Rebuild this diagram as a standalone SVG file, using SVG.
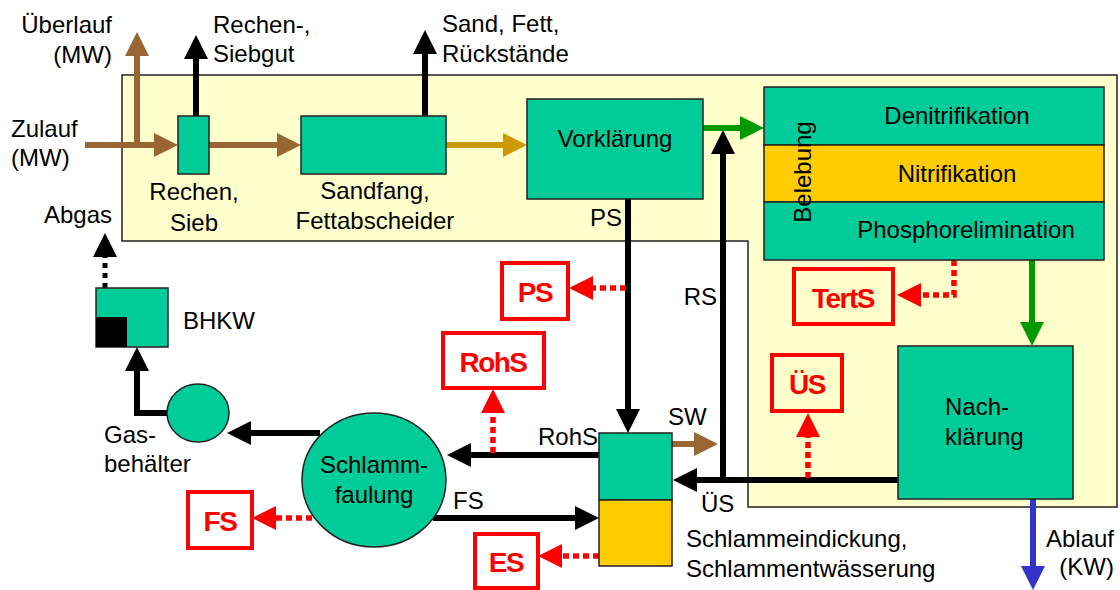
<svg xmlns="http://www.w3.org/2000/svg" width="1120" height="590" viewBox="0 0 1120 590">
<style>
text{font-family:"Liberation Sans",Arial,sans-serif;font-size:24px;fill:#000}
.m{text-anchor:middle}.e{text-anchor:end}
.r{fill:#FF0000;font-weight:bold;font-size:28px;letter-spacing:-1.5px;text-anchor:middle}
.box{fill:#00CC99;stroke:#222;stroke-width:1.5}
.gold{fill:#FFCC00;stroke:#222;stroke-width:1.5}
.rbox{fill:none;stroke:#FF0000;stroke-width:4}
.c{fill:none;stroke-width:6;stroke-linejoin:miter}
.k{stroke:#000;marker-end:url(#hk)}
.br{stroke:#996633;marker-end:url(#hb)}
.gd{stroke:#CC9900;marker-end:url(#hg)}
.gr{stroke:#009900;marker-end:url(#hgr)}
.bl{stroke:#3333CC;marker-end:url(#hbl)}
.rd{fill:none;stroke:#FF0000;stroke-width:5.5;stroke-dasharray:6 4;marker-end:url(#hr)}
.kd{fill:none;stroke:#000;stroke-width:5;stroke-dasharray:5 5;marker-end:url(#hk)}
</style>
<defs>
<marker id="hk" viewBox="0 0 24 24" refX="0" refY="12" markerWidth="24" markerHeight="24" markerUnits="userSpaceOnUse" orient="auto"><path d="M0,0L24,12L0,24z" fill="#000"/></marker>
<marker id="hb" viewBox="0 0 24 24" refX="0" refY="12" markerWidth="24" markerHeight="24" markerUnits="userSpaceOnUse" orient="auto"><path d="M0,0L24,12L0,24z" fill="#996633"/></marker>
<marker id="hg" viewBox="0 0 24 24" refX="0" refY="12" markerWidth="24" markerHeight="24" markerUnits="userSpaceOnUse" orient="auto"><path d="M0,0L24,12L0,24z" fill="#CC9900"/></marker>
<marker id="hgr" viewBox="0 0 24 24" refX="0" refY="12" markerWidth="24" markerHeight="24" markerUnits="userSpaceOnUse" orient="auto"><path d="M0,0L24,12L0,24z" fill="#009900"/></marker>
<marker id="hbl" viewBox="0 0 24 24" refX="0" refY="12" markerWidth="24" markerHeight="24" markerUnits="userSpaceOnUse" orient="auto"><path d="M0,0L24,12L0,24z" fill="#3333CC"/></marker>
<marker id="hr" viewBox="0 0 24 24" refX="0" refY="12" markerWidth="24" markerHeight="24" markerUnits="userSpaceOnUse" orient="auto"><path d="M0,0L24,12L0,24z" fill="#FF0000"/></marker>
</defs>
<rect width="1120" height="590" fill="#fff"/>
<path id="plant" d="M122,75H1117V507H748V241H122z" fill="#FFFFCC" stroke="#222" stroke-width="1.5"/>

<g id="connectors">
<path class="c br" d="M85,145H154"/>
<path class="c br" d="M137,145V56"/>
<path class="c br" d="M209,145H277"/>
<path class="c k" d="M196,116V59"/>
<path class="c k" d="M425,116V54"/>
<path class="c gd" d="M446,145H503"/>
<path class="c gr" d="M703,128H740"/>
<path class="c gr" d="M1032,260V322"/>
<path class="c bl" d="M1033,499V566"/>
<path class="c k" d="M628,199V409"/>
<path class="c k" d="M898,480H697"/>
<path class="c k" d="M723,483V154"/>
<path class="c k" d="M599,455H471"/>
<path class="c k" d="M433,518H575"/>
<path class="c br" d="M672,444H694"/>
<path class="c k" d="M320,433H251"/>
<path class="c k" d="M167,413H137V371"/>
<path class="kd" d="M105,288V257"/>
<path class="rd" d="M954,260V295H921"/>
<path class="rd" d="M808,478V437"/>
<path class="rd" d="M626,288H593"/>
<path class="rd" d="M493,453V413"/>
<path class="rd" d="M312,518H276"/>
<path class="rd" d="M599,556H562"/>
</g>

<g id="labels">
<text x="112" y="33" class="e">Überlauf</text>
<text x="112" y="63" class="e">(MW)</text>
<text x="11" y="137">Zulauf</text>
<text x="11" y="166">(MW)</text>
<text x="213" y="33">Rechen-,</text>
<text x="213" y="62">Siebgut</text>
<text x="442" y="32">Sand, Fett,</text>
<text x="442" y="62">Rückstände</text>
<text x="112" y="223" class="e">Abgas</text>
<text x="622" y="226" class="e">PS</text>
<text x="717" y="305" class="e">RS</text>
<text x="598" y="445" class="e">RohS</text>
<text x="668" y="425">SW</text>
<text x="701" y="512">ÜS</text>
<text x="453" y="509">FS</text>
<text x="1114" y="547" class="e">Ablauf</text>
<text x="1114" y="575" class="e">(KW)</text>
</g>

<g id="rechen">
<rect class="box" x="178" y="116" width="31" height="58"/>
<text x="194" y="200" class="m">Rechen,</text>
<text x="194" y="231" class="m">Sieb</text>
</g>
<g id="sandfang">
<rect class="box" x="301" y="116" width="145" height="58"/>
<text x="375" y="199" class="m">Sandfang,</text>
<text x="375" y="229" class="m">Fettabscheider</text>
</g>
<g id="vorklaerung">
<rect class="box" x="527" y="99" width="176" height="100"/>
<text x="615" y="147" class="m">Vorklärung</text>
</g>
<g id="belebung">
<rect class="box" x="764" y="87" width="340" height="58"/>
<rect class="gold" x="764" y="145" width="340" height="57"/>
<rect class="box" x="764" y="202" width="340" height="58"/>
<text x="957" y="124" class="m">Denitrifikation</text>
<text x="957" y="182" class="m">Nitrifikation</text>
<text x="966" y="238" class="m">Phosphorelimination</text>
<text transform="translate(811,172) rotate(-90)" class="m">Belebung</text>
</g>
<g id="nachklaerung">
<rect class="box" x="898" y="346" width="175" height="153"/>
<text x="945" y="415">Nach-</text>
<text x="945" y="445">klärung</text>
</g>
<g id="eindickung">
<rect class="box" x="599" y="433" width="73" height="67"/>
<rect class="gold" x="599" y="500" width="73" height="66"/>
<text x="686" y="547">Schlammeindickung,</text>
<text x="686" y="577">Schlammentwässerung</text>
</g>
<g id="faulung">
<ellipse class="box" cx="374" cy="480" rx="72" ry="67"/>
<text x="374" y="473" class="m">Schlamm-</text>
<text x="374" y="503" class="m">faulung</text>
</g>
<g id="gasbehaelter">
<ellipse class="box" cx="198" cy="413" rx="31" ry="29"/>
<text x="104" y="443">Gas-</text>
<text x="104" y="472">behälter</text>
</g>
<g id="bhkw">
<rect class="box" x="96" y="288" width="72" height="59"/>
<rect x="96" y="317" width="31" height="30" fill="#000"/>
<text x="183" y="329">BHKW</text>
</g>
<g id="tertS"><rect class="rbox" x="794" y="269" width="99" height="55"/><text x="843" y="308" class="r">TertS</text></g>
<g id="uesR"><rect class="rbox" x="772" y="355" width="70" height="56"/><text x="807" y="394" class="r">ÜS</text></g>
<g id="psR"><rect class="rbox" x="502" y="263" width="66" height="56"/><text x="535" y="302" class="r">PS</text></g>
<g id="rohsR"><rect class="rbox" x="443" y="333" width="101" height="55"/><text x="493" y="372" class="r">RohS</text></g>
<g id="fsR"><rect class="rbox" x="188" y="492" width="64" height="56"/><text x="220" y="531" class="r">FS</text></g>
<g id="esR"><rect class="rbox" x="475" y="534" width="63" height="54"/><text x="506" y="572" class="r">ES</text></g>
</svg>
